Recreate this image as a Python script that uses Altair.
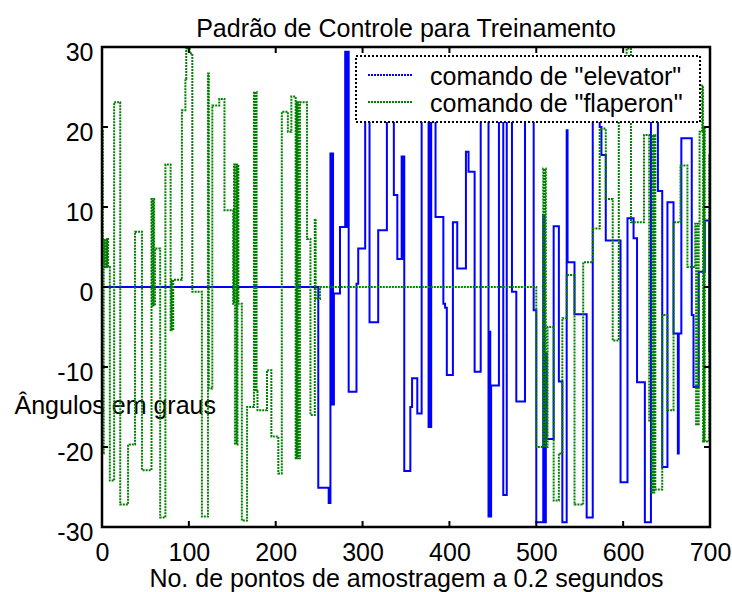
import altair as alt
import pandas as pd

FONT = "Liberation Sans"

x_ticks = [0, 100, 200, 300, 400, 500, 600, 700]
y_ticks = [-30, -20, -10, 0, 10, 20, 30]

# "elevator" command: sample index where each level starts, and the level (degrees)
elev_x = [0, 249, 261, 263, 264, 265, 266, 267, 274, 280, 281, 282, 284, 293, 295,
          303, 308, 318, 328, 336, 340, 345, 346, 347, 348, 355, 357, 363, 368, 376,
          377, 378, 379, 384, 393, 395, 397, 404, 409, 419, 422, 429, 436, 445, 446,
          447, 448, 457, 462, 466, 472, 477, 487, 497, 500, 508, 509, 511, 512, 520,
          526, 530, 535, 536, 544, 558, 565, 573, 575, 580, 597, 605, 612, 616, 625,
          632, 640, 645, 651, 658, 663, 664, 667, 679, 681, 687, 694, 699, 700]
elev_y = [0, -25.1, -27, 16.7, -14.7, 16.7, -14.7, -0.8, 7.5, 29.4, 7.5, 29.4, -13.1, 0.4, 4.8,
          25, -4.4, 7.1, 25, 11.5, 3.5, 16.3, 3.5, 16.3, -23, -15, -11.4, -15.8, 25, -17.5,
          25, -17.5, 25, 8.75, -2.1, -2.6, -11, 8.1, 2.3, 16.9, 14.4, -10.6, 25, -28.7, -5.6,
          -28.7, -12.3, 25, -26, 25, -0.6, -14.3, 25, -2.9, -29.4, 9, -29.4, -8.3, -19, 7.6,
          -11.8, -29.4, 19.6, 3.1, -3.4, -28.8, 25, 20, 16.5, 5.8, -24.4, 8.6, 6.1, -11.9, -29.4,
          25, 12, -22.5, 10.6, -5.8, -20.8, -5.8, 18.6, -3.5, -12.5, 1.9, 8.3, -8, -8]

# "flaperon" command
flap_x = [0, 1, 2, 3, 4, 5, 6, 7, 9, 14, 21, 30, 38, 46, 57, 58, 59, 60, 61, 67,
          73, 79, 80, 81, 82, 92, 96, 97, 101, 104, 115, 122, 123, 127, 135, 141, 151, 152, 153, 154,
          155, 156, 157, 161, 167, 175, 176, 177, 178, 179, 190, 195, 203, 207, 214, 218, 223, 224, 225, 226,
          227, 228, 236, 240, 245, 246, 251, 500, 508, 509, 510, 511, 513, 520, 526, 530, 535, 544, 554, 565,
          573, 580, 588, 595, 604, 609, 624, 630, 633, 634, 635, 636, 637, 645, 651, 658, 666, 674, 683, 684,
          685, 686, 687, 688, 691, 692, 693, 694, 699, 700]
flap_y = [19.5, -20.8, 6, 2.5, 6, 2.5, 6, 2.5, -24.2, 23.1, -27.2, -19.7, 6.9, -22.9, 11, -2.3, 11, -2.3, 4.8, -28.8,
          15.3, -5.4, 0.9, -5.4, 0.9, 22.1, 26, 29.8, 29.2, -0.6, -28.7, 26.7, -12.7, 22.7, 23.5, 9.6, -2.1, 15.3, -19.7, 15.3,
          -19.7, 15.3, -2.1, -29.2, -15, 24.4, -13, 24.4, -13, -15.4, -10.4, -18.7, -23.3, 21.9, 19.4, 23.8, -21.4, 23.1, -21.4, 23.1,
          -21.4, 23.1, 6, -16, 8.5, -1.5, 0, -20, 14.8, -20, 14.8, -20, -5, -26.7, -20.8, -3.9, 1.5, -27.2, 3.1, 7.3,
          19.8, 11, -6.7, 24, 29.8, 8.1, 19, -16.7, -25.7, 19, -25.7, 19, -25.3, -3.5, -15.4, 8.1, 15.2, 2.5, 7.9, -17.3,
          7.9, -17.3, 7.9, 19.4, 25.2, -19.3, 20, -19.3, 16.6, 16.6]

legend_labels = ['comando de "elevator"', 'comando de "flaperon"']

elev_df = pd.DataFrame({"x": elev_x, "y": elev_y, "i": range(len(elev_x))})
flap_df = pd.DataFrame({"x": flap_x, "y": flap_y, "i": range(len(flap_x))})

W, H = 608, 480
FS = 25

x_enc = alt.X(
    "x:Q",
    scale=alt.Scale(domain=[0, 700], nice=False, zero=False),
    axis=alt.Axis(
        values=x_ticks, labelExpr="'' + datum.value",
        title="No. de pontos de amostragem a 0.2 segundos",
        titleFont=FONT, titleFontSize=FS, titleFontWeight="normal", titleColor="black",
        titlePadding=1, labelFont=FONT, labelFontSize=FS, labelColor="black",
        labelPadding=13, ticks=False, tickSize=0, domain=False, grid=False,
        labelFlush=False, labelOverlap=False,
    ),
)
y_enc = alt.Y(
    "y:Q",
    scale=alt.Scale(domain=[-30, 30], nice=False, zero=False),
    axis=alt.Axis(
        values=y_ticks, labelExpr="'' + datum.value", title="Ângulos em graus",
        titleFont=FONT, titleFontSize=FS, titleFontWeight="normal", titleColor="black",
        titleAngle=0, titleAlign="left", titleBaseline="middle", titleX=-88, titleY=358,
        labelFont=FONT, labelFontSize=FS, labelColor="black", labelPadding=9, labelOffset=5,
        ticks=False, tickSize=0, domain=False, grid=False, labelFlush=False, labelOverlap=False,
    ),
)

elev_line = alt.Chart(elev_df).mark_line(
    interpolate="step-after", color="#0000ff", strokeWidth=2, clip=True
).encode(x=x_enc, y=y_enc, order="i:Q")

flap_line = alt.Chart(flap_df).mark_line(
    interpolate="step-after", color="#008000", strokeWidth=2, strokeDash=[2, 1], clip=True
).encode(x="x:Q", y="y:Q", order="i:Q")

one = pd.DataFrame({"k": [0]})
frame = alt.Chart(one).mark_rect(filled=False, stroke="black", strokeWidth=2.5).encode(
    x=alt.value(0), x2=alt.value(W), y=alt.value(0), y2=alt.value(H)
)

xt = pd.DataFrame({"t": x_ticks})
yt = pd.DataFrame({"t": y_ticks})
tick_style = dict(color="black", strokeWidth=2)
ticks_bottom = alt.Chart(xt).mark_rule(**tick_style).encode(x="t:Q", y=alt.value(H), y2=alt.value(H - 6))
ticks_top = alt.Chart(xt).mark_rule(**tick_style).encode(x="t:Q", y=alt.value(0), y2=alt.value(6))
ticks_left = alt.Chart(yt).mark_rule(**tick_style).encode(y="t:Q", x=alt.value(0), x2=alt.value(6))
ticks_right = alt.Chart(yt).mark_rule(**tick_style).encode(y="t:Q", x=alt.value(W), x2=alt.value(W - 6))

# legend box in the upper right of the axes
leg_box = alt.Chart(one).mark_rect(
    fill="white", stroke="black", strokeWidth=2, strokeDash=[2, 2]
).encode(x=alt.value(254), x2=alt.value(598), y=alt.value(9), y2=alt.value(75))
leg_elev = alt.Chart(one).mark_rule(color="#0000ff", strokeWidth=2, strokeDash=[2, 1]).encode(
    x=alt.value(266), x2=alt.value(311), y=alt.value(28)
)
leg_flap = alt.Chart(one).mark_rule(color="#008000", strokeWidth=2, strokeDash=[2, 1]).encode(
    x=alt.value(266), x2=alt.value(311), y=alt.value(55)
)
leg_text = alt.Chart(pd.DataFrame({"label": legend_labels, "row": [30, 57]})).mark_text(
    align="left", baseline="middle", font=FONT, fontSize=FS, color="black"
).encode(x=alt.value(328), y=alt.Y("row:Q", scale=None), text="label:N")

chart = alt.layer(
    elev_line, flap_line, ticks_bottom, ticks_top, ticks_left, ticks_right, frame,
    leg_box, leg_elev, leg_flap, leg_text,
).properties(
    width=W, height=H,
    autosize=alt.AutoSizeParams(type="none"),
    padding={"left": 102, "top": 47, "right": 22, "bottom": 65},
    title=alt.TitleParams(
        "Padrão de Controle para Treinamento", font=FONT, fontSize=FS,
        fontWeight="normal", color="black", offset=-2,
    ),
).configure_view(stroke=None).configure(background="white")

chart.save("out.html", embed_options={"renderer": "svg", "actions": False})
